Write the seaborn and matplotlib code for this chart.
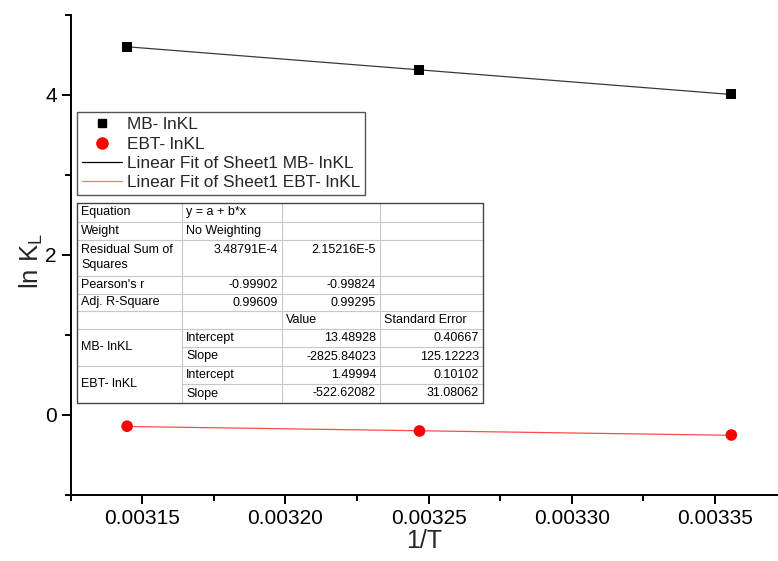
import numpy as np
import pandas as pd
import matplotlib
matplotlib.use("Agg")
import matplotlib.pyplot as plt
from matplotlib.lines import Line2D
from matplotlib.patches import Rectangle
import seaborn as sns

# ---- data -------------------------------------------------------------
inv_T = [0.0031447, 0.0032468, 0.0033557]        # 1/T for 318, 308, 298 K
mb_lnKL = [4.60, 4.31, 4.01]
ebt_lnKL = [-0.14, -0.20, -0.25]

mb_intercept, mb_slope = 13.48928, -2825.84023
ebt_intercept, ebt_slope = 1.49994, -522.62082
mb_int_err, mb_slope_err = 0.40667, 125.12223
ebt_int_err, ebt_slope_err = 0.10102, 31.08062

rss = ["3.48791E-4", "2.15216E-5"]
pearson = ["-0.99902", "-0.99824"]
adj_r2 = ["0.99609", "0.99295"]

x_ticks = [0.00315, 0.00320, 0.00325, 0.00330, 0.00335]
x_tick_labels = ["0.00315", "0.00320", "0.00325", "0.00330", "0.00335"]
y_ticks = [0, 2, 4]

W, H = 778, 561
AX_L, AX_T, AX_B = 70.7, 15, 495

sns.set_theme(style="ticks")
plt.rcParams["font.family"] = ["Liberation Sans", "DejaVu Sans"]
plt.rcParams["mathtext.fontset"] = "custom"
plt.rcParams["mathtext.rm"] = "Liberation Sans"

fig = plt.figure(figsize=(W / 100, H / 100), dpi=100)
ax = fig.add_axes([AX_L / W, 1 - AX_B / H, (W - AX_L) / W, (AX_B - AX_T) / H])


def fx(x):
    return x / W


def fy(y):
    return 1 - y / H


# ---- marks ------------------------------------------------------------
df = pd.DataFrame({"x": inv_T, "mb": mb_lnKL, "ebt": ebt_lnKL})
xs = np.array([min(inv_T), max(inv_T)])
fit = pd.DataFrame({"x": xs,
                    "mb": mb_intercept + mb_slope * xs,
                    "ebt": ebt_intercept + ebt_slope * xs})

sns.lineplot(data=fit, x="x", y="mb", ax=ax, color="#3a3a3a", lw=0.9, zorder=2)
sns.lineplot(data=fit, x="x", y="ebt", ax=ax, color="#ff4a4a", lw=0.9, zorder=2)
sns.scatterplot(data=df, x="x", y="mb", ax=ax, marker="s", s=52, color="black",
                edgecolor="none", zorder=3)
sns.scatterplot(data=df, x="x", y="ebt", ax=ax, marker="o", s=70, color="#ff0000",
                edgecolor="none", zorder=3)

# ---- axes -------------------------------------------------------------
ax.set_xlim(0.003125, 0.003372)
ax.set_ylim(-1, 5)
ax.set_xticks(x_ticks)
ax.set_xticklabels(x_tick_labels)
ax.set_xticks([0.003125, 0.003175, 0.003225, 0.003275, 0.003325], minor=True)
ax.set_yticks(y_ticks)
ax.set_yticks([-1, 1, 3, 5], minor=True)
for s in ("top", "right"):
    ax.spines[s].set_visible(False)
for s in ("left", "bottom"):
    ax.spines[s].set_linewidth(1.4)
    ax.spines[s].set_color("black")
ax.tick_params(which="major", direction="out", length=6.5, width=1.4,
               labelsize=15, pad=3.5, colors="black")
ax.tick_params(which="minor", direction="out", length=4, width=1.4, colors="black")
ax.set_xlabel("1/T", fontsize=18, labelpad=1)
ax.set_ylabel("ln K$_\\mathregular{L}$", fontsize=18.5)
ax.yaxis.set_label_coords((45 - AX_L) / (W - AX_L), (AX_B - 261) / (AX_B - AX_T))

# ---- legend -----------------------------------------------------------
handles = [
    Line2D([], [], marker="s", ls="none", color="black", markersize=6),
    Line2D([], [], marker="o", ls="none", color="#ff0000", markersize=8),
    Line2D([], [], color="black", lw=0.9),
    Line2D([], [], color="#ff7070", lw=0.9),
]
labels = ["MB- lnKL", "EBT- lnKL",
          "Linear Fit of Sheet1 MB- lnKL", "Linear Fit of Sheet1 EBT- lnKL"]
leg = ax.legend(handles, labels, loc="upper left",
                bbox_to_anchor=(fx(77), fy(112)), bbox_transform=fig.transFigure,
                fontsize=12.4, frameon=True, fancybox=False, framealpha=1,
                edgecolor="#555555", borderpad=0.3, labelspacing=0.25,
                handlelength=2.3, handletextpad=0.3, borderaxespad=0)
leg.get_frame().set_linewidth(1.0)

# ---- fit summary table ------------------------------------------------
col_x = [77, 182, 282, 380, 483]
row_y = [203, 222, 240, 276, 294, 311, 329, 347, 366, 384, 403]
grid = "#c8c8c8"
fs = 9.0


def hline(y, x0, x1, c=grid):
    fig.add_artist(Line2D([fx(x0), fx(x1)], [fy(y), fy(y)], color=c, lw=0.8,
                          transform=fig.transFigure, zorder=5))


def vline(x, y0, y1, c=grid):
    fig.add_artist(Line2D([fx(x), fx(x)], [fy(y0), fy(y1)], color=c, lw=0.8,
                          transform=fig.transFigure, zorder=5))


fig.add_artist(Rectangle((fx(col_x[0]), fy(row_y[-1])),
                         fx(col_x[-1]) - fx(col_x[0]), fy(row_y[0]) - fy(row_y[-1]),
                         facecolor="white", edgecolor="none",
                         transform=fig.transFigure, zorder=4))

for i in range(1, len(row_y) - 1):
    y = row_y[i]
    if i in (7, 9):  # inside merged row-label cells
        hline(y, col_x[1], col_x[-1])
    else:
        hline(y, col_x[0], col_x[-1])
for x in col_x[1:-1]:
    vline(x, row_y[0], row_y[-1])

fig.add_artist(Rectangle((fx(col_x[0]), fy(row_y[-1])),
                         fx(col_x[-1]) - fx(col_x[0]), fy(row_y[0]) - fy(row_y[-1]),
                         facecolor="none", edgecolor="#444444", lw=1.0,
                         transform=fig.transFigure, zorder=6))


def cell(text, col, y, align="left"):
    if align == "left":
        x = col_x[col] + 4
    else:
        x = col_x[col + 1] - 4
    fig.text(fx(x), fy(y), text, ha=align, va="center", fontsize=fs,
             color="black", zorder=7)


def mid(r):
    return (row_y[r] + row_y[r + 1]) / 2


cell("Equation", 0, mid(0))
cell("y = a + b*x", 1, mid(0))
cell("Weight", 0, mid(1))
cell("No Weighting", 1, mid(1))
cell("Residual Sum of", 0, row_y[2] + 10)
cell("Squares", 0, row_y[2] + 25)
cell(rss[0], 1, row_y[2] + 10, "right")
cell(rss[1], 2, row_y[2] + 10, "right")
cell("Pearson's r", 0, mid(3))
cell(pearson[0], 1, mid(3), "right")
cell(pearson[1], 2, mid(3), "right")
cell("Adj. R-Square", 0, mid(4))
cell(adj_r2[0], 1, mid(4), "right")
cell(adj_r2[1], 2, mid(4), "right")
cell("Value", 2, mid(5))
cell("Standard Error", 3, mid(5))

cell("MB- lnKL", 0, row_y[7])
cell("Intercept", 1, mid(6))
cell(f"{mb_intercept:.5f}", 2, mid(6), "right")
cell(f"{mb_int_err:.5f}", 3, mid(6), "right")
cell("Slope", 1, mid(7))
cell(f"{mb_slope:.5f}", 2, mid(7), "right")
cell(f"{mb_slope_err:.5f}", 3, mid(7), "right")

cell("EBT- lnKL", 0, row_y[9])
cell("Intercept", 1, mid(8))
cell(f"{ebt_intercept:.5f}", 2, mid(8), "right")
cell(f"{ebt_int_err:.5f}", 3, mid(8), "right")
cell("Slope", 1, mid(9))
cell(f"{ebt_slope:.5f}", 2, mid(9), "right")
cell(f"{ebt_slope_err:.5f}", 3, mid(9), "right")

fig.savefig("out.png", dpi=100)
